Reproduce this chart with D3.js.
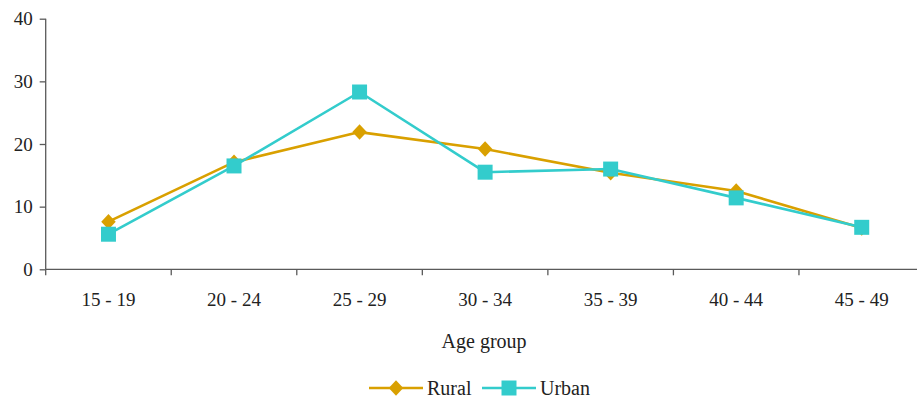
<!DOCTYPE html>
<html>
<head>
<meta charset="utf-8">
<script src="https://cdn.jsdelivr.net/npm/d3@7"></script>
<style>
  html, body { margin: 0; padding: 0; background: #fff; }
  svg { display: block; }
  text { font-family: "Liberation Serif", "DejaVu Serif", serif; fill: #222; }
</style>
</head>
<body>
<svg id="chart" width="917" height="398"></svg>
<script>
// Age groups and the share (%) of each group
const ageGroups = ["15 - 19", "20 - 24", "25 - 29", "30 - 34", "35 - 39", "40 - 44", "45 - 49"];
const ruralValues = [7.6, 17.1, 21.9, 19.2, 15.4, 12.5, 6.6];
const urbanValues = [5.6, 16.5, 28.3, 15.5, 16.0, 11.4, 6.7];
const yTicks = [0, 10, 20, 30, 40];
const seriesNames = ["Rural", "Urban"];

const colors = { Rural: "#D9A000", Urban: "#33CCCC" };
const axisColor = "#5a5a5a";
const tickFont = "19px";

const svg = d3.select("#chart");
const plotLeft = 45.7, plotRight = 924.5, plotTop = 18.7, plotBottom = 269.3;

const x = d3.scaleBand().domain(ageGroups).range([plotLeft, plotRight]).padding(0);
const y = d3.scaleLinear().domain([0, 40]).range([plotBottom, plotTop]);
const cx = d => x(d) + x.bandwidth() / 2;

// Y axis
const yAxis = svg.append("g")
  .attr("transform", `translate(${plotLeft},0)`)
  .call(d3.axisLeft(y).tickValues(yTicks).tickSize(6).tickPadding(7).tickFormat(d3.format("d")));
yAxis.attr("font-family", null).attr("font-size", null);
yAxis.select(".domain").attr("stroke", axisColor).attr("stroke-width", 1.3).attr("d", `M0,${plotTop}V${plotBottom}`);
yAxis.selectAll(".tick line").attr("stroke", axisColor).attr("stroke-width", 1.3);
yAxis.selectAll(".tick text").style("font-size", tickFont).attr("fill", "#222");

// X axis: labels centred in each band, ticks on band boundaries
const xAxis = svg.append("g")
  .attr("transform", `translate(0,${plotBottom})`)
  .call(d3.axisBottom(x).tickSize(0).tickPadding(23));
xAxis.attr("font-family", null).attr("font-size", null);
xAxis.select(".domain").attr("stroke", axisColor).attr("stroke-width", 1.3).attr("d", `M${plotLeft},0H${plotRight}`);
xAxis.selectAll(".tick text").style("font-size", tickFont).attr("fill", "#222");
const boundaries = ageGroups.map(d => x(d)).concat([x.range()[1]]);
xAxis.selectAll("line.boundary")
  .data(boundaries)
  .enter().append("line")
  .attr("class", "boundary")
  .attr("x1", d => d).attr("x2", d => d)
  .attr("y1", 0).attr("y2", 6)
  .attr("stroke", axisColor).attr("stroke-width", 1.3);

// Axis title
svg.append("text")
  .attr("x", cx(ageGroups[3]) - 1)
  .attr("y", 341)
  .attr("dy", "0.35em")
  .attr("text-anchor", "middle")
  .style("font-size", "20px")
  .text("Age group");

const series = [
  { name: seriesNames[0], values: ruralValues },
  { name: seriesNames[1], values: urbanValues }
];

const line = d3.line().x((d, i) => cx(ageGroups[i])).y(d => y(d));

series.forEach(s => {
  svg.append("path")
    .datum(s.values)
    .attr("fill", "none")
    .attr("stroke", colors[s.name])
    .attr("stroke-width", 2.6)
    .attr("stroke-linejoin", "round")
    .attr("d", line);
});

// Marker outlines: upright rhombus for Rural, square for Urban
function markerPath(shape, size) {
  if (shape === "diamond") {
    const w = size / 2, h = size / 2 + 0.5;
    return `M0,${-h}L${w},0L0,${h}L${-w},0Z`;
  }
  const s = size / 2;
  return `M${-s},${-s}H${s}V${s}H${-s}Z`;
}

const markerDefs = { Rural: ["diamond", 14.5], Urban: ["square", 15] };

series.forEach(s => {
  const [shape, size] = markerDefs[s.name];
  svg.append("g").selectAll("path")
    .data(s.values)
    .enter().append("path")
    .attr("transform", (d, i) => `translate(${cx(ageGroups[i])},${y(d)})`)
    .attr("d", markerPath(shape, size))
    .attr("fill", colors[s.name]);
});

// Legend
const legendItems = [
  { name: "Rural", x0: 369, x1: 423, mx: 396, tx: 427 },
  { name: "Urban", x0: 482, x1: 536, mx: 509, tx: 540 }
];
const legendY = 388;
const lg = svg.append("g");
legendItems.forEach(it => {
  const [shape, size] = markerDefs[it.name];
  lg.append("line")
    .attr("x1", it.x0).attr("x2", it.x1)
    .attr("y1", legendY).attr("y2", legendY)
    .attr("stroke", colors[it.name]).attr("stroke-width", 2.6);
  lg.append("path")
    .attr("transform", `translate(${it.mx},${legendY})`)
    .attr("d", markerPath(shape, size))
    .attr("fill", colors[it.name]);
  lg.append("text")
    .attr("x", it.tx).attr("y", legendY).attr("dy", "0.35em")
    .style("font-size", "20px")
    .text(it.name);
});
</script>
</body>
</html>
